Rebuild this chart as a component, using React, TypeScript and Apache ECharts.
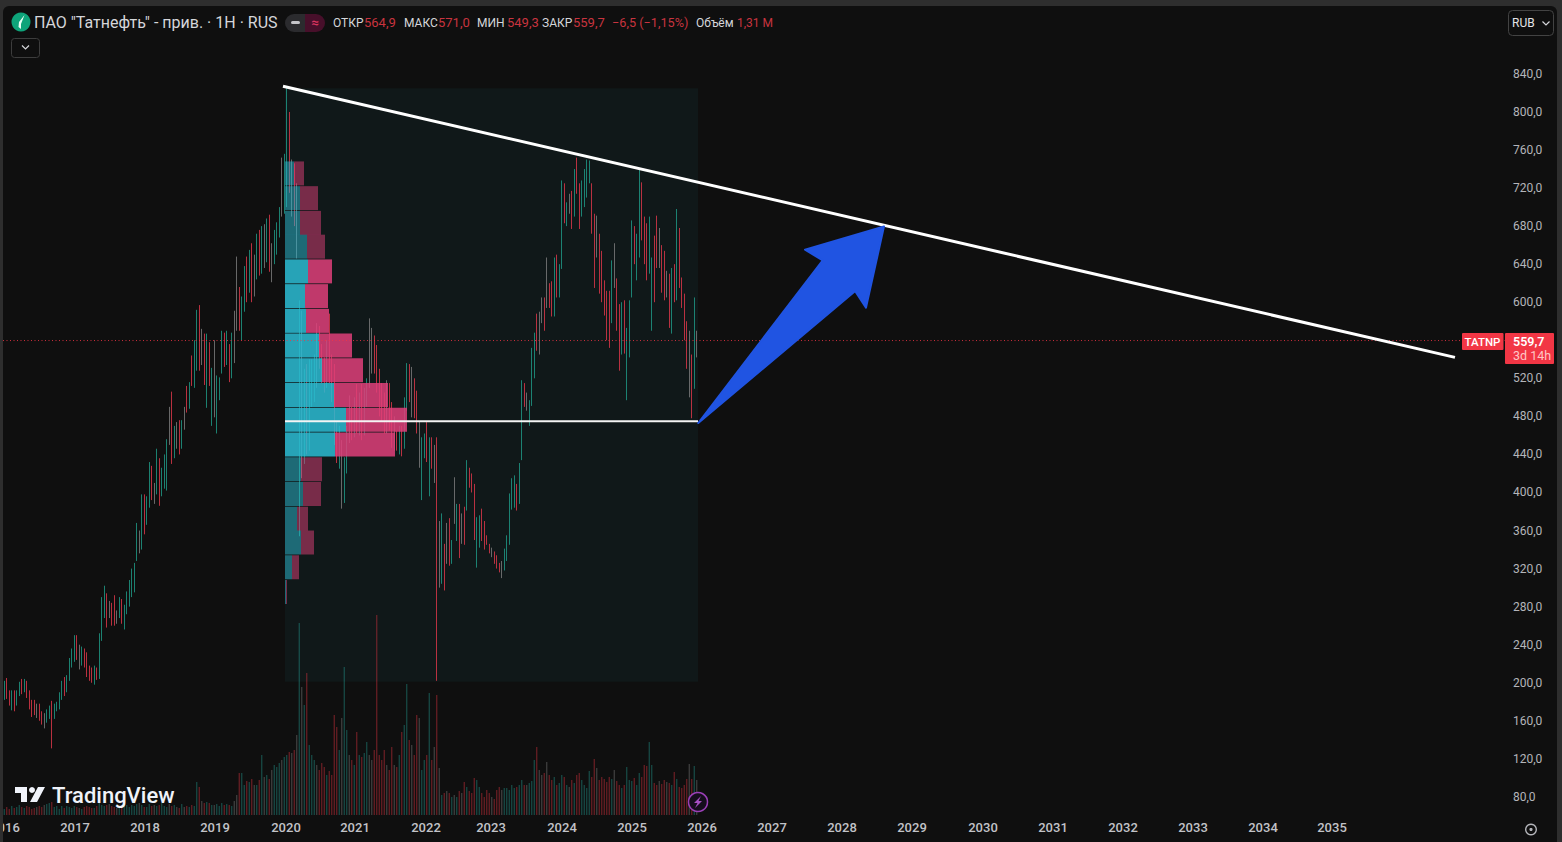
import { useEffect, useRef } from "react";
import * as echarts from "echarts";

// bars: open, close, low, high, volume, neutral flag
const bars2016 = [
  [186,196,182,202,6],[199,190,183,205,8],[190,182,176,192,6],[178,186,171,192,9],[186,178,170,192,7],[178,190,176,192,8],[190,199,186,201,10],
  [201,193,188,204,8],[193,200,190,204,7],[198,188,184,202,9],[188,178,172,192,8],[178,170,164,182,6],[178,170,166,182,7],[170,174,163,178,8,1],
  [174,166,160,178,9],[166,158,156,170,8],[160,158,152,168,10,1],[160,168,158,172,11],[168,172,162,176,12],[172,166,131,181,13],[166,174,162,178,8],
  [174,178,170,180,9],[178,186,172,190,6],[186,198,182,202,9],[198,194,186,206,7],[194,206,190,208,9],[206,222,202,226,8],[222,230,216,236,7],
];
const bars2017 = [
  [232,246,222,250,9],[246,232,224,250,8],[232,228,214,240,7,1],[226,232,218,238,6],[232,222,216,236,8],[224,214,206,232,9],[214,208,202,218,8],
  [208,204,200,216,7],[204,212,198,218,7],[212,206,203,216,9],[206,248,204,252,12],[248,284,244,290,10],[280,286,268,302,9],[286,272,258,294,10],
  [272,278,268,286,11,1],[280,266,260,284,9],[286,268,260,292,8],[268,272,262,276,7,1],[272,284,268,290,8],[284,270,262,288,7],[272,276,256,282,9],
  [276,292,272,296,10],[292,296,280,308,8],[296,316,290,320,10],[300,324,295,326,9],[331,362,328,368,11],[356,342,336,360,12,1],[344,392,340,398,10],
];
const bars2018 = [
  [392,376,356,398,8],[374,392,366,396,8],[388,420,384,432,11],[420,398,392,428,9],[396,404,388,410,10,1],[404,440,398,446,9],[430,404,386,436,10],
  [404,420,396,426,12],[420,436,404,440,9],[420,452,402,456,8],[458,484,450,490,11,1],[484,440,430,506,9],[450,466,436,470,10],[466,456,446,474,8,1],
  [470,448,440,476,7],[450,470,446,476,11],[470,482,466,490,8,1],[508,490,484,512,9],[492,512,488,516,8],[538,516,512,544,10],[518,556,510,560,9],
  [556,590,528,592,33],[590,560,528,597,28],[560,546,534,572,14,1],[548,540,513,567,12],[505,540,489,567,13],[540,526,512,558,12],[490,520,470,531,10],
];
const bars2019 = [
  [552,518,479,560,10,1],[515,520,462,523,11],[500,515,497,521,9],[530,556,525,570,12],[556,542,532,568,10],[540,562,534,570,11],[552,528,516,556,10],
  [530,548,520,568,9],[549,585,536,591,14,1],[590,640,570,648,20,1],[612,580,570,616,42],[570,600,560,606,42],[604,632,590,638,30],[632,622,600,648,34],
  [622,640,610,655,33],[640,616,600,662,36],[616,640,606,650,30,1],[632,660,624,672,30],[660,640,628,676,35],[640,668,630,680,60],[668,650,636,682,38,1],
  [650,670,642,688,40],[670,644,632,692,36],[640,656,621,662,45,1],[656,672,640,676,50],[668,676,650,684,48],[676,694,668,700,52],[700,726,690,752,55,1],
  [720,750,693,756,58],
];
const bars2020 = [
  [740,790,700,825,60],[798,752,715,800,63],[740,720,690,750,62,1],[730,704,680,746,65],[725,680,646,725,80,1],[400,470,354,602,192],[540,470,415,591,128,1],
  [470,495,430,530,110],[495,470,440,535,142],[470,500,444,540,70],[500,505,490,540,60],[505,525,495,545,55],[545,570,510,578,50,1],[565,545,530,575,45],
  [545,530,515,556,52],[530,518,505,542,48],[520,530,510,560,40],[580,530,515,588,44],[530,510,495,545,40],[515,470,450,535,100],[465,440,431,475,88],
  [445,455,425,470,65],[440,410,383,455,97,1],[400,430,389,437,148],[430,445,420,470,85],[460,480,452,502,60,1],[480,470,455,490,55],[470,490,458,500,50],
];
const bars2021 = [
  [490,475,462,514,83],[475,490,460,505,60],[490,470,455,514,58],[470,500,460,510,62],[500,515,490,520,73],[565,535,510,583,60,1],[535,560,525,573,55,1],
  [560,540,525,565,65],[540,520,505,555,202],[520,500,480,530,60],[500,490,475,515,55],[490,480,462,505,65],[470,510,462,518,50,1],[505,480,465,515,45],
  [478,460,447,495,68],[460,468,444,480,50,1],[460,450,444,465,48],[450,462,440,470,60],[462,448,438,470,83],[450,490,446,500,90],[490,525,486,536,131],
  [525,510,495,535,75],[530,505,479,532,70,1],[505,490,478,520,60],[490,475,462,507,100],[470,455,426,475,97,1],[440,455,392,458,45],[445,460,436,462,55],
];
const bars2022 = [
  [472,441,432,474,60],[430,455,396,458,122],[455,438,425,458,55],[435,420,410,450,68,1],[425,355,202,458,120],[355,330,300,370,47,1],[310,350,304,378,20],
  [340,310,297,346,22],[330,365,325,368,24,1],[368,330,323,373,22],[330,345,325,350,18],[370,405,367,416,20,1],[365,385,349,388,18],[385,345,331,388,24],
  [350,372,346,378,22,1],[372,350,345,385,33],[385,425,381,434,28],[425,410,405,426,24],[420,402,400,420,22],[400,360,350,409,37],[330,350,321,374,35],
  [355,375,342,376,28],[380,360,349,383,22],[365,345,340,370,18],[352,347,345,355,25],[345,338,336,346,22],[340,334,332,342,18,1],[335,330,325,338,16],
];
const bars2023 = [
  [332,322,320,334,25],[322,318,316,326,28],[318,325,310,328,25,1],[322,338,318,341,27],[340,352,328,355,27],[352,392,345,399,25],[392,410,382,415,30],
  [400,414,384,418,27],[405,390,381,409,28],[395,428,388,431,30],[435,510,434,518,35],[510,500,490,515,30],[505,490,486,505,30,1],[480,497,470,497,32],
  [500,545,491,552,34],[545,565,520,568,55],[580,555,549,588,68],[560,585,545,590,45,1],[590,600,578,605,40,1],[600,580,570,605,42],[645,600,594,647,53,1],
  [618,598,594,620,40],[612,590,585,622,35],[595,640,585,647,38],[645,615,605,650,30],[612,630,605,640,32],[640,700,635,728,40],[720,690,683,725,38],
];
const bars2024 = [
  [690,700,680,705,30],[705,700,693,714,28,1],[712,690,677,717,35],[700,730,690,740,32],[750,720,714,752,40],[720,695,677,725,42],[695,720,690,728,35],
  [715,735,700,740,30],[725,745,710,750,27],[727,745,725,749,44],[722,690,672,725,38],[690,640,615,693,56],[690,650,647,691,47,1],[650,625,609,672,35],
  [625,610,600,654,38],[612,600,586,623,36],[600,580,560,612,33],[585,560,552,612,38],[590,625,578,644,36],[655,620,615,662,45,1],[620,590,570,625,34],
  [590,550,528,598,30],[555,590,545,600,27],[590,560,546,602,30],[530,560,497,573,48],[550,590,542,602,35],[615,670,605,686,34],[670,650,640,680,37],
];
const bars2025 = [
  [635,665,623,672,30],[665,700,647,741,42],[725,680,665,726,38],[680,670,640,690,50],[680,640,623,683,49],[640,655,630,690,73],[590,640,570,647,50],
  [640,625,600,670,32],[680,650,636,691,30],[670,645,636,678,34,1],[645,630,610,660,31],[650,610,602,654,35],[630,610,605,633,33,1],[628,590,573,630,32],
  [590,625,567,636,30],[625,620,600,640,43],[650,690,602,698,36],[675,630,615,678,28],[625,600,594,626,27],[600,570,560,609,30],[570,560,530,580,36],
  [560,510,500,570,51,1],[520,500,478,545,36],[515,560,509,605,49],[550,560,542,570,35,1],
];

const yearLabels = [2016,2017,2018,2019,2020,2021,2022,2023,2024,2025,2026,2027,2028,2029,2030,2031,2032,2033,2034,2035];
const yearPositions = [0.3,28.3,56.3,84.3,112.7,140.3,168.7,194.7,223.1,251.1,279.1,307.1,335.1,363.1,391.5,419.5,447.5,475.5,503.5,531.1];

// volume profile rows, top price of each row with its buy and sell share
const profileTops = [748,722,696,671,645,619,593,567,541,515,489,463,437,411,385,360,334,308];
const profileUp = [9,15,15,22,23,20,21,34,37,49,61,50,16,18,12,16,7,1];
const profileDown = [10,18,21,18,24,23,23,33,41,54,61,60,21,18,11,13,7,1];
const valueAreaRows = [4,5,6,7,8,9,10,11];

const lastPrice = 559.7;
const boxSpan = [112.3, 201, 277.5, 824.8];
const trendLine = [[111.5, 827], [580.3, 542]];
const supportLine = [[112.3, 475], [277.5, 475]];
const arrowPoints = [[351.9, 679.7], [320.3, 655.2], [327.4, 644], [277.6, 473], [340.4, 611.7], [344.7, 594.3]];

const allBars = [...bars2016, ...bars2017, ...bars2018, ...bars2019, ...bars2020, ...bars2021, ...bars2022, ...bars2023, ...bars2024, ...bars2025];

const UP = "#1f9e8a";
const DOWN = "#e4394b";
const NEUTRAL = "#7f7f7f";
const FONT = "Roboto, 'Noto Sans', sans-serif";
const X_MIN = -0.5;
const X_MAX = 601.5;

function label(x: number, y: number, text: string, fill: string, size = 12, weight = 400, align = "left") {
  return {
    type: "text",
    silent: true,
    z: 30,
    style: { x, y, text, fill, font: `${weight} ${size}px ${FONT}`, textAlign: align, textVerticalAlign: "middle" },
  };
}

function box(x: number, y: number, width: number, height: number, fill: string, r: any = 0, stroke?: string, z = 30) {
  return {
    type: "rect",
    silent: true,
    z,
    shape: { x, y, width, height, r },
    style: stroke ? { fill, stroke, lineWidth: 1 } : { fill },
  };
}

function chevron(x: number, y: number, color: string) {
  return {
    type: "polyline",
    silent: true,
    z: 30,
    shape: { points: [[x - 3.5, y - 2], [x, y + 1.5], [x + 3.5, y - 2]] },
    style: { stroke: color, lineWidth: 1.2, fill: "none" },
  };
}

function overlayElements() {
  const red = "#c8343f";
  const text = "#d5d6da";
  return [
    box(0, 0, 1562, 842, "#2e2e2e", 0, undefined, -20),
    box(3, 6, 1554, 836, "#0f0f0f", [6, 6, 0, 0], undefined, -19),
    box(0, 0, 3, 842, "#2e2e2e", 0, undefined, 25),
    { type: "circle", silent: true, z: 30, shape: { cx: 21, cy: 22, r: 9.5 }, style: { fill: "#0ea47a" } },
    { type: "polygon", silent: true, z: 31, shape: { points: [[24.5, 15], [19, 22], [18.5, 27], [21, 29], [21, 24]] }, style: { fill: "#e8fff6" } },
    label(34, 22.5, 'ПАО "Татнефть" - прив. · 1H · RUS', text, 16),
    box(285, 14, 20, 18, "#2b2b2e", [9, 0, 0, 9]),
    box(305, 14, 20, 18, "#470f2a", [0, 9, 9, 0]),
    box(291, 21, 9, 3, "#c4c4c8", 1.5),
    label(315, 22.5, "≈", "#d8345f", 13, 700, "center"),
    label(333, 22.5, "ОТКР", text, 12),
    label(364, 22.5, "564,9", red, 13),
    label(404, 22.5, "МАКС", text, 12),
    label(438, 22.5, "571,0", red, 13),
    label(477, 22.5, "МИН", text, 12),
    label(507, 22.5, "549,3", red, 13),
    label(542, 22.5, "ЗАКР", text, 12),
    label(573, 22.5, "559,7", red, 13),
    label(612, 22.5, "−6,5 (−1,15%)", red, 12.7),
    label(696, 22.5, "Объём", text, 12),
    label(737, 22.5, "1,31 M", red, 12),
    box(11.5, 38.5, 28, 19, "#0f0f0f", 3, "#3d3d3d"),
    chevron(25.5, 47.5, "#d5d6da"),
    box(1508.5, 10.5, 45, 25, "#0f0f0f", 4, "#434343"),
    label(1512, 23, "RUB", "#e4e4e8", 12),
    chevron(1546, 23.5, "#d5d6da"),
    box(1462, 333, 41.5, 17, "#f23645", 1),
    label(1482.5, 342, "TATNP", "#ffffff", 11.5, 500, "center"),
    box(1505, 333, 49, 31, "#f23645", 1),
    label(1513, 341, "559,7", "#ffffff", 12.5, 600),
    label(1513, 355, "3d 14h", "#ffc6c6", 12.5),
    { type: "ring", silent: true, z: 30, shape: { cx: 1531, cy: 829.5, r: 6, r0: 4.6 }, style: { fill: "#b4b5ba" } },
    { type: "circle", silent: true, z: 30, shape: { cx: 1531, cy: 829.5, r: 1.6 }, style: { fill: "#b4b5ba" } },
    // TradingView mark
    { type: "polygon", silent: true, z: 30, shape: { points: [[15, 787], [27, 787], [27, 802], [21, 802], [21, 793], [15, 793]] }, style: { fill: "#f0f3fa" } },
    { type: "circle", silent: true, z: 30, shape: { cx: 32, cy: 790, r: 3 }, style: { fill: "#f0f3fa" } },
    { type: "polygon", silent: true, z: 30, shape: { points: [[38, 787], [45, 787], [37, 802], [30, 802]] }, style: { fill: "#f0f3fa" } },
    label(52, 795, "TradingView", "#f0f3fa", 22, 500),
    { type: "circle", silent: true, z: 30, shape: { cx: 698, cy: 802, r: 9.5 }, style: { fill: "#150d1c", stroke: "#9a3fb6", lineWidth: 1.5 } },
    { type: "polygon", silent: true, z: 31, shape: { points: [[701, 796], [694, 803], [697.5, 803], [695, 808], [702, 801], [698.5, 801]] }, style: { fill: "#a64fc2" } },
  ];
}

function buildOption() {
  const candleData = allBars.map((bar, i) => {
    const value = [i, bar[0], bar[1], bar[2], bar[3]];
    if (!bar[5]) return { value };
    return { value, itemStyle: { color: NEUTRAL, color0: NEUTRAL, borderColor: NEUTRAL, borderColor0: NEUTRAL } };
  });
  const volumeData = allBars.map((bar, i) => {
    let color = bar[1] >= bar[0] ? "rgba(38,166,154,0.42)" : "rgba(242,54,69,0.42)";
    if (bar[5]) color = "rgba(128,128,128,0.45)";
    return { value: [i, bar[4]], itemStyle: { color } };
  });
  const profileData = profileTops.map((top, i) => [profileUp[i], profileDown[i], top]);

  return {
    animation: false,
    backgroundColor: "#0f0f0f",
    graphic: { elements: overlayElements() },
    grid: [
      { left: 3, width: 1505, top: 35.85, height: 761.05, outerBoundsMode: "none" },
      { left: 3, width: 1505, top: 615, height: 200, outerBoundsMode: "none" },
      { left: 285, width: 122, top: 35.85, height: 761.05, outerBoundsMode: "none" },
    ],
    xAxis: [
      {
        type: "value",
        gridIndex: 0,
        min: X_MIN,
        max: X_MAX,
        splitLine: { show: false },
        axisLine: { show: false },
        axisTick: { show: false },
        axisLabel: {
          customValues: yearPositions,
          margin: 24,
          color: "#c2c3c8",
          fontFamily: FONT,
          fontSize: 13,
          fontWeight: 500,
          formatter: (v: number) => String(yearLabels[yearPositions.indexOf(v)] ?? ""),
        },
      },
      { type: "value", gridIndex: 1, min: X_MIN, max: X_MAX, show: false },
      { type: "value", gridIndex: 2, min: 0, max: 122, show: false },
    ],
    yAxis: [
      {
        type: "value",
        gridIndex: 0,
        position: "right",
        min: 80,
        max: 880,
        interval: 40,
        splitLine: { show: false },
        axisLine: { show: false },
        axisTick: { show: false },
        axisLabel: {
          margin: 5,
          color: "#b4b5ba",
          fontFamily: FONT,
          fontSize: 12,
          formatter: (v: number) => (v > 840 ? "" : v.toFixed(1).replace(".", ",")),
        },
      },
      { type: "value", gridIndex: 1, min: 0, max: 200, show: false },
      { type: "value", gridIndex: 2, min: 80, max: 880, show: false },
    ],
    series: [
      {
        type: "custom",
        xAxisIndex: 0,
        yAxisIndex: 0,
        z: 1,
        silent: true,
        clip: false,
        data: [boxSpan],
        renderItem: (_: any, api: any) => {
          const a = api.coord([api.value(0), api.value(3)]);
          const b = api.coord([api.value(2), api.value(1)]);
          return { type: "rect", shape: { x: a[0], y: a[1], width: b[0] - a[0], height: b[1] - a[1] }, style: { fill: "#101819" } };
        },
      },
      {
        type: "bar",
        xAxisIndex: 1,
        yAxisIndex: 1,
        z: 2,
        silent: true,
        barWidth: 1.2,
        data: volumeData,
      },
      {
        type: "candlestick",
        xAxisIndex: 0,
        yAxisIndex: 0,
        z: 3,
        silent: true,
        barWidth: 1.1,
        encode: { x: 0, y: [1, 2, 3, 4] },
        itemStyle: { color: UP, color0: DOWN, borderColor: UP, borderColor0: DOWN, borderWidth: 0.8 },
        data: candleData,
      },
      {
        type: "custom",
        xAxisIndex: 2,
        yAxisIndex: 2,
        z: 4,
        silent: true,
        clip: false,
        data: profileData,
        renderItem: (params: any, api: any) => {
          const up = api.value(0);
          const down = api.value(1);
          const top = api.value(2);
          const a = api.coord([0, top]);
          const b = api.coord([up, top - 25.2]);
          const c = api.coord([up + down, top - 25.2]);
          const bright = valueAreaRows.includes(params.dataIndex);
          const opacity = bright ? 0.85 : 0.5;
          return {
            type: "group",
            children: [
              { type: "rect", shape: { x: a[0], y: a[1], width: b[0] - a[0], height: b[1] - a[1] }, style: { fill: "#2cbcd4", opacity, blend: "screen" } },
              { type: "rect", shape: { x: b[0], y: a[1], width: c[0] - b[0], height: b[1] - a[1] }, style: { fill: "#df3f7a", opacity, blend: "screen" } },
            ],
          };
        },
      },
      {
        type: "line",
        xAxisIndex: 0,
        yAxisIndex: 0,
        z: 5,
        silent: true,
        symbol: "none",
        lineStyle: { color: "#f23645", width: 1, type: [1, 2.5], opacity: 0.85 },
        data: [[X_MIN, lastPrice], [X_MAX, lastPrice]],
      },
      {
        type: "line",
        xAxisIndex: 0,
        yAxisIndex: 0,
        z: 6,
        silent: true,
        symbol: "none",
        lineStyle: { color: "#f4f4f4", width: 2 },
        data: supportLine,
      },
      {
        type: "line",
        xAxisIndex: 0,
        yAxisIndex: 0,
        z: 6,
        silent: true,
        symbol: "none",
        lineStyle: { color: "#ffffff", width: 3 },
        data: trendLine,
      },
      {
        type: "custom",
        xAxisIndex: 0,
        yAxisIndex: 0,
        z: 7,
        silent: true,
        clip: false,
        data: [arrowPoints[0]],
        renderItem: (_: any, api: any) => ({
          type: "polygon",
          shape: { points: arrowPoints.map((p) => api.coord(p)) },
          style: { fill: "#2054e2", stroke: "#2054e2", lineWidth: 2, lineJoin: "round" },
        }),
      },
    ],
  };
}

export default function App() {
  const rootRef = useRef<HTMLDivElement | null>(null);

  useEffect(() => {
    document.body.style.margin = "0";
    document.body.style.background = "#0f0f0f";
    if (!rootRef.current) {
      return;
    }
    const chart = echarts.init(rootRef.current, undefined, { renderer: "svg" });
    chart.setOption(buildOption());
    return () => {
      chart.dispose();
    };
  }, []);

  return <div ref={rootRef} style={{ width: 1562, height: 842 }} />;
}
